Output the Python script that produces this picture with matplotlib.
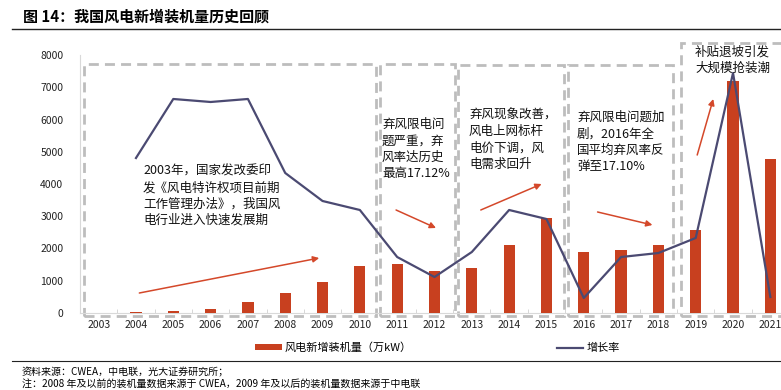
import matplotlib
matplotlib.use("Agg")
import matplotlib.pyplot as plt
from matplotlib.patches import Rectangle
from matplotlib.lines import Line2D
from matplotlib.patches import Patch
import numpy as np

plt.rcParams['font.family'] = ['Noto Sans CJK SC', 'DejaVu Sans']

# ---- data ----
years = ['2003', '2004', '2005', '2006', '2007', '2008', '2009', '2010', '2011', '2012',
         '2013', '2014', '2015', '2016', '2017', '2018', '2019', '2020', '2021']
new_capacity = [10, 20, 50, 124, 341, 620, 961, 1457, 1519, 1302,
                1395, 2109, 2946, 1891, 1953, 2109, 2574, 7194, 4775]
# growth-rate line, plotted on a hidden secondary axis (values read in left-axis scale)
growth_years = years[1:]
growth_line = [4806, 6636, 6543, 6636, 4341, 3473, 3194, 1736, 1116,
               1891, 3194, 2915, 465, 1736, 1860, 2326, 7442, 496]

title = '图 14：我国风电新增装机量历史回顾'
bar_label = '风电新增装机量（万kW）'
line_label = '增长率'
notes = ['资料来源：CWEA，中电联，光大证券研究所；',
         '注：2008 年及以前的装机量数据来源于 CWEA，2009 年及以后的装机量数据来源于中电联']
annotations = [
    '2003年，国家发改委印\n发《风电特许权项目前期\n工作管理办法》，我国风\n电行业进入快速发展期',
    '弃风限电问\n题严重，弃\n风率达历史\n最高17.12%',
    '弃风现象改善，\n风电上网标杆\n电价下调，风\n电需求回升',
    '弃风限电问题加\n剧，2016年全\n国平均弃风率反\n弹至17.10%',
    '补贴退坡引发\n大规模抢装潮',
]

BAR_C = '#C8401F'
LINE_C = '#4B4A72'
BOX_C = '#BDBDBD'

W, H = 781, 390
fig = plt.figure(figsize=(W / 100, H / 100), dpi=100)

def fx(px):
    return px / W

def fy(py):
    return 1 - py / H

ax = fig.add_axes([fx(80), fy(313), 709 / W, (313 - 55) / H])
x = np.arange(len(years))
ax.bar(x, new_capacity, width=0.3, color=BAR_C, zorder=3)
ax.set_xlim(-0.45, 18.5)
ax.set_ylim(0, 8000)
ax.set_yticks(range(0, 8001, 1000))
ax.set_xticks(x)
ax.set_xticklabels(years)
ax.set_xticks(np.arange(-0.5, 19, 1), minor=True)
ax.tick_params(axis='x', which='major', length=0, labelsize=7.5, pad=5, colors='#222222')
ax.tick_params(axis='x', which='minor', length=3, direction='in', color='#D0D0D0')
ax.tick_params(axis='y', length=0, labelsize=7.5, pad=12, colors='#222222')
for s in ['top', 'right']:
    ax.spines[s].set_visible(False)
ax.spines['left'].set_color('#D9D9D9')
ax.spines['bottom'].set_color('#D9D9D9')

ax2 = ax.twinx()
ax2.set_ylim(0, 8000)
ax2.plot(np.arange(1, len(years)), growth_line, color=LINE_C, lw=1.6, zorder=4)
ax2.axis('off')

# dashed boxes (data coordinates)
boxes = [(-0.40, 7.43, 7720), (7.54, 9.55, 7720), (9.63, 12.46, 7700),
         (12.57, 15.40, 7700), (15.61, 18.9, 8372)]
for x0, x1, top in boxes:
    r = Rectangle((x0, -95), x1 - x0, top + 95, fill=False, edgecolor=BOX_C,
                  lw=2.0, linestyle=(0, (3.6, 2.2)), clip_on=False, zorder=2)
    ax.add_patch(r)

# annotation texts (pixel positions -> figure coords), top of first line
text_pos = [(143, 165), (382, 118), (469, 109), (577, 111), (695, 46)]
for (px, py), t in zip(text_pos, annotations):
    fig.text(fx(px), fy(py), t, fontsize=9, va='top', ha='left',
             linespacing=1.32, color='#111111')

# arrows
arrows = [((1.09, 620), (5.91, 1705)), ((7.97, 3194), (9.04, 2636)),
          ((10.24, 3194), (11.87, 4000)), ((13.37, 3132), (14.84, 2729)),
          ((16.04, 4899), (16.47, 6636))]
for (s, e) in arrows:
    ax.annotate('', xy=e, xytext=s,
                arrowprops=dict(arrowstyle='-|>', color='#D4482A', lw=1.1,
                                mutation_scale=9, shrinkA=0, shrinkB=0))

# title & rules
fig.text(fx(23), fy(17), title, fontsize=10.8, weight='bold', va='center', ha='left')
fig.add_artist(Line2D([fx(12), 1], [fy(29), fy(29)], color='#222222', lw=1.0))
fig.add_artist(Line2D([fx(12), 1], [fy(361), fy(361)], color='#222222', lw=0.8))
fig.text(fx(22), fy(372), notes[0], fontsize=7.2, va='center', ha='left')
fig.text(fx(22), fy(384), notes[1], fontsize=7.2, va='center', ha='left')

# legend
handles = [Patch(facecolor=BAR_C, edgecolor='none'),
           Line2D([0], [0], color=LINE_C, lw=1.6)]
fig.legend(handles, [bar_label, line_label], loc='center left',
           bbox_to_anchor=(fx(255), fy(348)), ncol=2, frameon=False,
           fontsize=8, handlelength=2.4, handleheight=0.45, handletextpad=0.3,
           columnspacing=13.0, borderpad=0, borderaxespad=0)

fig.savefig('out.png', dpi=100)
